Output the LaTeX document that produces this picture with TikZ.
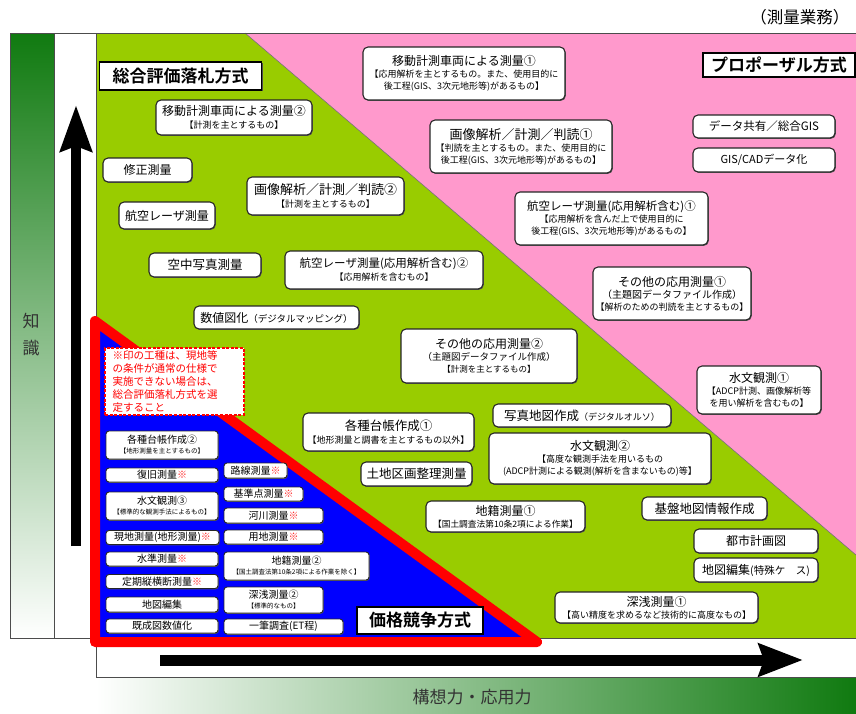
\documentclass[tikz,border=0pt]{standalone}
\usepackage{fontspec}
\setmainfont{Noto Sans CJK JP}[BoldFont={Noto Sans CJK JP Bold}]
\usetikzlibrary{arrows.meta,shadows}
\definecolor{dkg}{RGB}{16,122,16}
\definecolor{midg}{RGB}{160,188,160}
\definecolor{barmid}{RGB}{205,218,205}
\definecolor{lgr}{RGB}{153,204,0}
\definecolor{pnk}{RGB}{255,153,204}
\definecolor{blu}{RGB}{0,0,255}
\definecolor{rd}{RGB}{255,0,0}
\definecolor{kred}{RGB}{255,40,40}
\newcommand\jpM{\fontsize{12}{14}\selectfont}
\newcommand\jpMl{\fontsize{12.5}{14.5}\selectfont}
\newcommand\jpMx{\fontsize{13}{15}\selectfont}
\newcommand\jpS{\fontsize{9}{12}\selectfont}
\newcommand\jpBM{\fontsize{10}{12}\selectfont}
\newcommand\jpBS{\fontsize{6.5}{10}\selectfont}
\newcommand\jpL{\bfseries\fontsize{17}{20}\selectfont}
\newcommand\kome{\textcolor{kred}{※}}
\begin{document}
\begin{tikzpicture}[x=1pt,y=-1pt,
  sz/.style 2 args={minimum width=#1pt, minimum height=#2pt},
  wb/.style={draw=black!85, line width=1.1pt, fill=white, rounded corners=5pt,
    align=center, inner sep=0pt, font=\jpS,
    drop shadow={shadow xshift=0.8pt, shadow yshift=-0.9pt, fill=black!65, opacity=1}},
  bb/.style={draw=black!85, line width=0.9pt, fill=white, rounded corners=3pt,
    align=center, inner sep=0pt, font=\jpBS,
    drop shadow={shadow xshift=0.7pt, shadow yshift=-0.8pt, fill=black!65, opacity=1}},
  lb/.style={draw=black, line width=1.3pt, fill=white, inner sep=0pt, font=\jpL,
    drop shadow={shadow xshift=1pt, shadow yshift=-1pt, fill=black!70, opacity=1}},
  note/.style={draw=rd, dash pattern=on 3pt off 1.6pt, line width=1.4pt, fill=white,
    text=rd, align=left, text width=124pt, inner xsep=7.5pt, inner ysep=0pt,
    minimum height=67pt, font=\fontsize{10.5}{13.2}\selectfont},
  frame/.style={draw=black!70, line width=0.8pt},
  bigarrow/.style={line width=#1, draw=black}
]
\useasboundingbox (0,0) rectangle (856,713);
\fill[white] (0,0) rectangle (856,713);

% columns
\shade[top color=dkg, middle color=midg, bottom color=white] (10,33) rectangle (54,638);
\draw[frame] (10,33) rectangle (54,638);
\draw[frame] (54,33) rectangle (96,638);

% main area
\fill[lgr] (96,33) rectangle (856,638);
\fill[pnk] (245,33) -- (856,33) -- (856,555) -- cycle;
\draw[black!55, line width=0.6pt] (245,33) -- (856,555);
\draw[frame] (10,33) -- (856,33);
\draw[frame] (10,638) -- (856,638);
\draw[frame] (96,33) -- (96,713);

% bottom bar
\shade[left color=white, middle color=barmid, right color=dkg] (96,677) rectangle (856,713);
\draw[frame] (96,677) -- (856,677);

% arrows
\coordinate (vs) at (76,546);
\coordinate (ve) at (76,105);
\draw[bigarrow=10pt, -{Stealth[length=46pt, width=31pt, inset=5pt]}] (vs) -- (ve);
\coordinate (hs) at (160,660);
\coordinate (he) at (803,660);
\draw[bigarrow=11pt, -{Stealth[length=44pt, width=32pt, inset=5pt]}] (hs) -- (he);

% red triangle
\draw[rd, line width=10pt, line join=round, fill=blu] (95,321) -- (95,642) -- (537,642) -- cycle;

% texts
\node[font=\fontsize{17}{27}\selectfont, text=black!80, align=center] (chishiki) at (31,335) {知\\識};
\node[font=\fontsize{16.5}{19}\selectfont, anchor=east] (gyomu) at (853,17) {（測量業務）};
\node[font=\fontsize{17}{20}\selectfont, text=black!80] (koso) at (472,697) {構想力・応用力};

% ---- green region ----
\node[lb, sz={162}{28}] (sogo) at (180.5,76) {総合評価落札方式};
\node[wb, sz={156}{35}] (idouB) at (234,117.5) {{\jpM 移動計測車両による測量②}\\[1pt]【計測を主とするもの】};
\node[wb, sz={89}{24}, font=\jpM] (shusei) at (147.5,170) {修正測量};
\node[wb, sz={96}{27}, font=\jpM] (koku) at (167,215.5) {航空レーザ測量};
\node[wb, sz={157}{38}] (gazoB) at (325.5,196) {{\jpMx 画像解析／計測／判読②}\\[1pt]【計測を主とするもの】};
\node[wb, sz={112}{24}, font=\jpMl] (kuchu) at (205,265) {空中写真測量};
\node[wb, sz={198}{38}] (kokuB) at (384,270) {{\fontsize{11.5}{13}\selectfont 航空レーザ測量(応用解析含む)②}\\[1pt]【応用解析を含むもの】};
\node[wb, sz={165}{23}] (suchi) at (276.5,317.5) {{\jpM 数値図化}{\fontsize{9.5}{11}\selectfont（デジタルマッピング）}};
\node[wb, sz={176}{54}] (sonotaB) at (489,356) {{\jpM その他の応用測量②}\\{\fontsize{9.5}{12}\selectfont（主題図データファイル作成）}\\{\fontsize{8.5}{11}\selectfont【計測を主とするもの】}};
\node[wb, sz={171}{38}] (daichoA) at (388.5,432) {{\jpMl 各種台帳作成①}\\[1pt]【地形測量と調書を主とするもの以外】};
\node[wb, sz={178}{23}] (shashin) at (582,415.5) {{\jpMl 写真地図作成}{\fontsize{9}{11}\selectfont（デジタルオルソ）}};
\node[wb, sz={222}{51}] (suimonB) at (600,458.5) {{\jpM 水文観測②}\\【高度な観測手法を用いるもの\\(ADCP計測による観測(解析を含まないもの)等】};
\node[wb, sz={111}{24}, font=\jpMl] (tochi) at (416.5,474) {土地区画整理測量};
\node[wb, sz={159}{31}] (chisekiA) at (505.5,516.5) {{\jpM 地籍測量①}\\{\fontsize{8.7}{11}\selectfont【国土調査法第10条2項による作業】}};
\node[wb, sz={125}{23}, font=\jpMl] (kiban) at (704.5,508.5) {基盤地図情報作成};
\node[wb, sz={124}{24}, font=\jpM] (toshi) at (756,541) {都市計画図};
\node[wb, sz={124}{24}] (chizuA) at (756,570) {{\jpM 地図編集}{\fontsize{10.5}{12}\selectfont(特殊ケ　ス)}};
\node[wb, sz={203}{31}] (shinsenA) at (656.5,607.5) {{\jpM 深浅測量①}\\【高い精度を求めるなど技術的に高度なもの】};

% ---- pink region ----
\node[lb, sz={152}{24}] (propo) at (779,65) {プロポーザル方式};
\node[wb, sz={202}{53}] (idouA) at (464,73.5) {{\jpM 移動計測車両による測量①}\\【応用解析を主とするもの。また、使用目的に\\後工程(GIS、3次元地形等)があるもの】};
\node[wb, sz={182}{53}] (gazoA) at (521,146.5) {{\jpMx 画像解析／計測／判読①}\\【判読を主とするもの。また、使用目的に\\後工程(GIS、3次元地形等)があるもの】};
\node[wb, sz={142}{23}, font=\fontsize{11.5}{13}\selectfont] (data) at (764,126.5) {データ共有／総合GIS};
\node[wb, sz={142}{24}, font=\fontsize{11}{13}\selectfont] (giscad) at (764,160) {GIS/CADデータ化};
\node[wb, sz={193}{53}] (kokuA) at (611.5,218.5) {{\fontsize{11.5}{13}\selectfont 航空レーザ測量(応用解析含む)①}\\【応用解析を含んだ上で使用目的に\\後工程(GIS、3次元地形等)があるもの】};
\node[wb, sz={158}{53}] (sonotaA) at (672,293.5) {{\jpM その他の応用測量①}\\{\fontsize{10}{12}\selectfont（主題図データファイル作成）}\\【解析のための判読を主とするもの】};
\node[wb, sz={124}{48}] (suimonA) at (759,390) {{\jpM 水文観測①}\\【ADCP計測、画像解析等\\を用い解析を含むもの】};

% ---- blue region ----
\node[note] (note) at (174.5,381.5) {※印の工種は、現地等\\の条件が通常の仕様で\\実施できない場合は、\\総合評価落札方式を選\\定すること};
\node[bb, sz={112}{28}] (daichoB) at (162,445) {{\jpBM 各種台帳作成②}\\【地形測量を主とするもの】};
\node[bb, sz={112}{14}, font=\jpBM] (fukkyu) at (162,475) {復旧測量\kome};
\node[bb, sz={112}{28}] (suimonC) at (162,506) {{\jpBM 水文観測③}\\【標準的な観測手法によるもの】};
\node[bb, sz={113}{14}, font=\jpBM] (genchi) at (162.5,537.5) {現地測量(地形測量)\kome};
\node[bb, sz={112}{14}, font=\jpBM] (suijun) at (162,559) {水準測量\kome};
\node[bb, sz={112}{14}, font=\jpBM] (teiki) at (162,581.5) {定期縦横断測量\kome};
\node[bb, sz={112}{15}, font=\jpBM] (chizuB) at (162,604.5) {地図編集};
\node[bb, sz={112}{14}, font=\jpBM] (kisei) at (162,626) {既成図数値化};
\node[bb, sz={63}{15}, font=\jpBM] (rosen) at (255.5,470.5) {路線測量\kome};
\node[bb, sz={79}{14}, font=\jpBM] (kijun) at (263.5,494) {基準点測量\kome};
\node[bb, sz={99}{15}, font=\jpBM] (kasen) at (273.5,515.5) {河川測量\kome};
\node[bb, sz={99}{14}, font=\jpBM] (yochi) at (273.5,537) {用地測量\kome};
\node[bb, sz={145}{28}] (chisekiB) at (296.5,566) {{\jpBM 地籍測量②}\\【国土調査法第10条2項による作業を除く】};
\node[bb, sz={99}{26}] (shinsenB) at (273.5,600) {{\jpBM 深浅測量②}\\【標準的なもの】};
\node[bb, sz={119}{15}, font=\jpBM] (ippitsu) at (283.5,626.5) {一筆調査(ET程)};
\node[lb, sz={126}{27}] (kakaku) at (420,620.5) {価格競争方式};
\end{tikzpicture}
\end{document}
